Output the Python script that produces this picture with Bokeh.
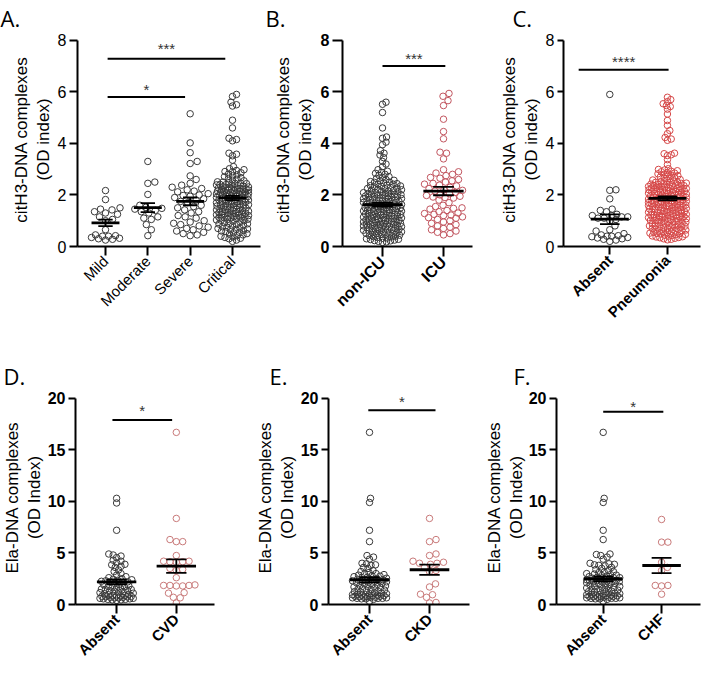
import math
import numpy as np
from bokeh.plotting import figure
from bokeh.layouts import column, row
from bokeh.models import FixedTicker, Range1d, Title
from bokeh.embed import file_html
from bokeh.resources import INLINE
from bokeh.core.properties import value

# ---------------- data ----------------
cats_a = ["Mild", "Moderate", "Severe", "Critical"]
mild = [2.17, 1.82, 1.5, 1.45, 1.42, 1.35, 1.3, 1.25, 1.15, 1.05, 1.0, 0.65, 0.45, 0.42, 0.4, 0.4,
        0.35, 0.32, 0.3, 0.28, 0.25]
moderate = [3.3, 2.5, 2.45, 2.02, 1.6, 1.52, 1.48, 1.45, 1.4, 1.35, 1.3, 1.15, 1.1, 1.05, 0.85, 0.65, 0.42]
severe = [5.15, 4.02, 3.64, 3.3, 3.22, 2.74, 2.6, 2.45, 2.38, 2.3, 2.25, 2.2, 2.12, 2.05, 2.0, 1.98, 1.9,
          1.85, 1.8, 1.75, 1.7, 1.6, 1.55, 1.5, 1.42, 1.35, 1.3, 1.2, 1.15, 1.1, 1.0, 0.95, 0.9, 0.85,
          0.8, 0.75, 0.7, 0.65, 0.6, 2.15, 0.55, 0.5, 1.95, 0.45, 0.42]
critical = [5.9, 5.82, 5.6, 5.5, 5.45, 4.9, 4.6, 4.2, 4.15, 4.1, 3.62, 3.58, 3.52, 3.35, 3.1, 3.02,
            2.98, 2.95, 2.91, 2.9, 2.86, 2.81, 2.78, 2.74, 2.71, 2.67, 2.64, 2.61, 2.57, 2.55, 2.51,
            2.5, 2.48, 2.46, 2.45, 2.41, 2.4, 2.38, 2.36, 2.35, 2.32, 2.3, 2.28, 2.27, 2.25, 2.24, 2.22,
            2.2, 2.2, 2.18, 2.17, 2.15, 2.14, 2.12, 2.1, 2.1, 2.08, 2.07, 2.05, 2.04, 2.03, 2.02, 2.0,
            2.0, 2.19, 2.21, 2.23, 2.13, 2.09, 2.06, 2.31, 2.39, 2.44,
            1.98, 1.96, 1.95, 1.93, 1.92, 1.9, 1.88, 1.86, 1.85, 1.83, 1.82, 1.8, 1.78, 1.77, 1.75,
            1.73, 1.72, 1.7, 1.68, 1.66, 1.65, 1.63, 1.62, 1.6, 1.58, 1.57, 1.55, 1.54, 1.52, 1.51,
            1.87, 1.74, 1.64, 1.94, 1.81,
            1.49, 1.47, 1.45, 1.44, 1.42, 1.4, 1.38, 1.36, 1.35, 1.33, 1.31, 1.3, 1.28, 1.26, 1.25,
            1.23, 1.21, 1.2, 1.18, 1.16, 1.15, 1.13, 1.11, 1.1, 1.08, 1.06, 1.05, 1.03, 1.02, 1.0,
            1.37, 1.22, 1.12, 1.27, 1.43,
            0.98, 0.95, 0.92, 0.9, 0.87, 0.85, 0.82, 0.8, 0.77, 0.75, 0.72, 0.7, 0.67, 0.65, 0.62,
            0.6, 0.58, 0.55, 0.53, 0.5, 0.88, 0.68,
            0.48, 0.45, 0.42, 0.4, 0.37, 0.35, 0.32, 0.3, 0.25, 0.2]
sig_a = [("Mild", "Severe", 5.8, 6.2, "*"), ("Mild", "Critical", 7.28, 7.8, "***")]

cats_b = ["non-ICU", "ICU"]
non_icu = [5.6, 5.52, 5.2, 4.6, 4.25, 4.2, 4.05, 3.95, 3.72, 3.62, 3.55, 3.45, 3.3, 3.2, 3.1,
           2.98, 2.92, 2.88, 2.84, 2.8, 2.76, 2.71, 2.68, 2.64, 2.6, 2.57, 2.55, 2.52, 2.5,
           2.49, 2.47, 2.44, 2.42, 2.41, 2.38, 2.36, 2.33, 2.31, 2.29, 2.27, 2.25, 2.24, 2.22, 2.2,
           2.19, 2.17, 2.15, 2.14, 2.12, 2.1, 2.09, 2.07, 2.06, 2.04, 2.03, 2.02, 2.01, 2.0, 2.35,
           1.99, 1.97, 1.96, 1.94, 1.93, 1.91, 1.9, 1.88, 1.87, 1.85, 1.84, 1.82, 1.81, 1.8, 1.78,
           1.77, 1.75, 1.74, 1.72, 1.71, 1.7, 1.68, 1.67, 1.65, 1.64, 1.62, 1.61, 1.6, 1.58, 1.57,
           1.56, 1.55, 1.53, 1.52, 1.51, 1.5, 1.86, 1.63,
           1.49, 1.48, 1.46, 1.45, 1.44, 1.42, 1.41, 1.4, 1.38, 1.37, 1.35, 1.34, 1.32, 1.31, 1.3,
           1.28, 1.27, 1.25, 1.24, 1.22, 1.21, 1.2, 1.18, 1.17, 1.15, 1.14, 1.12, 1.11, 1.1, 1.08,
           1.07, 1.05, 1.04, 1.03, 1.02, 1.01, 1.0, 1.16, 1.26, 1.36,
           0.99, 0.97, 0.96, 0.94, 0.93, 0.91, 0.9, 0.88, 0.87, 0.85, 0.84, 0.82, 0.81, 0.8, 0.78,
           0.77, 0.75, 0.74, 0.72, 0.7, 0.69, 0.67, 0.66, 0.64, 0.63, 0.61, 0.6, 0.58, 0.57, 0.55,
           0.54, 0.52, 0.51, 0.5, 0.86, 0.76, 0.65, 0.95,
           0.49, 0.47, 0.45, 0.44, 0.42, 0.4, 0.38, 0.37, 0.35, 0.33, 0.32, 0.3, 0.28, 0.27, 0.25,
           0.23, 0.22, 0.2, 0.18, 0.16]
icu = [5.94, 5.83, 5.66, 5.47, 4.94, 4.46, 4.18, 3.66, 3.62, 3.4, 2.98, 1.4, 2.9, 1.35, 2.85, 1.6,
       2.8, 1.28, 2.75, 1.8, 2.68, 2.65, 2.6, 2.55, 2.5, 2.45, 2.42, 2.38, 2.35, 2.3, 2.25, 2.2,
       2.18, 2.15, 2.1, 2.05, 2.0, 1.98, 1.95, 1.92, 1.9, 1.88, 1.7, 1.55, 1.5, 1.48, 1.45, 1.3,
       1.25, 1.22, 1.2, 1.15, 1.12, 1.1, 1.05, 1.0, 0.95, 0.9, 0.85, 0.8, 0.75, 0.7, 0.65, 0.6,
       0.55, 0.5, 0.45]
sig_b = [("non-ICU", "ICU", 7.0, 7.4, "***")]

cats_c = ["Absent", "Pneumonia"]
c_absent = [5.9, 2.2, 2.18, 1.85, 1.45, 1.4, 1.35, 1.25, 1.2, 1.2, 1.15, 1.15, 1.1, 1.1, 1.05, 1.0,
            0.8, 0.65, 0.6, 0.5, 0.45, 0.42, 0.4, 0.4, 0.38, 0.35, 0.33, 0.3, 0.28, 0.25, 0.2]
pneumonia = [5.79, 5.7, 5.62, 5.54, 5.47, 5.43, 5.33, 5.14, 4.89, 4.7, 4.5, 4.38, 4.23, 4.17, 4.12,
             3.62, 3.6, 3.56, 3.53, 3.37, 3.18, 3.02,
             2.99, 2.97, 2.94, 2.92, 2.9, 2.87, 2.85, 2.82, 2.8, 2.77, 2.75, 2.72, 2.7, 2.68, 2.65,
             2.63, 2.6, 2.58, 2.56, 2.54, 2.52, 2.5,
             2.49, 2.48, 2.46, 2.45, 2.44, 2.42, 2.41, 2.4, 2.38, 2.37, 2.36, 2.34, 2.33, 2.32, 2.3,
             2.29, 2.28, 2.26, 2.25, 2.24, 2.22, 2.21, 2.2, 2.18, 2.17, 2.16, 2.14, 2.13, 2.12, 2.1,
             2.09, 2.08, 2.06, 2.05, 2.04, 2.02, 2.01, 2.0, 2.15, 2.23, 2.35, 2.11, 2.19, 2.27, 2.07,
             1.99, 1.98, 1.96, 1.95, 1.94, 1.92, 1.91, 1.9, 1.88, 1.87, 1.86, 1.84, 1.83, 1.82, 1.8,
             1.79, 1.78, 1.76, 1.75, 1.74, 1.72, 1.71, 1.7, 1.68, 1.67, 1.66, 1.64, 1.63, 1.62, 1.6,
             1.59, 1.58, 1.56, 1.55, 1.54, 1.52, 1.51, 1.5, 1.65, 1.73, 1.85, 1.61, 1.69, 1.77, 1.57,
             1.49, 1.48, 1.46, 1.45, 1.44, 1.42, 1.41, 1.4, 1.38, 1.37, 1.36, 1.34, 1.33, 1.32, 1.3,
             1.29, 1.28, 1.26, 1.25, 1.24, 1.22, 1.21, 1.2, 1.18, 1.17, 1.16, 1.14, 1.13, 1.12, 1.1,
             1.09, 1.08, 1.06, 1.05, 1.04, 1.02, 1.01, 1.0, 1.15, 1.23, 1.35, 1.11,
             0.99, 0.97, 0.96, 0.94, 0.93, 0.91, 0.9, 0.88, 0.87, 0.85, 0.84, 0.82, 0.81, 0.79, 0.78,
             0.76, 0.75, 0.73, 0.72, 0.7, 0.69, 0.67, 0.66, 0.64, 0.63, 0.61, 0.6, 0.58, 0.57, 0.55,
             0.54, 0.52, 0.51, 0.5, 0.8,
             0.49, 0.47, 0.46, 0.44, 0.43, 0.41, 0.4, 0.38, 0.37, 0.35, 0.34, 0.32, 0.3, 0.28, 0.26]
sig_c = [("Absent", "Pneumonia", 6.86, 7.3, "****")]

cats_d = ["Absent", "CVD"]
d_absent = [10.3, 9.85, 7.2, 4.9, 4.8, 4.7, 4.55, 4.3, 4.2, 4.05, 3.9, 3.85, 3.7, 3.6, 3.35, 3.2, 3.0,
            2.85, 2.7, 2.6, 2.45, 2.35, 2.3, 2.2, 2.1, 2.05, 1.95, 1.9, 1.8, 1.75, 1.65, 1.6, 1.5,
            1.45, 1.4, 1.3, 1.25, 1.2, 1.15, 1.1, 1.05, 1.0, 0.95, 0.9, 0.9, 0.85, 0.8, 0.8, 0.75,
            0.75, 0.7, 0.7, 0.65, 0.6, 0.6, 0.55, 0.55, 0.5, 0.5, 0.45, 0.45, 2.4, 0.4, 2.15, 2.25,
            1.35, 1.45, 1.55, 0.85, 0.65, 1.7, 2.5]
cvd = [16.7, 8.35, 6.3, 6.1, 6.1, 4.75, 4.2, 4.2, 4.15, 4.1, 4.15, 3.5, 3.4, 3.3, 2.6, 1.9, 1.85, 1.8,
       1.85, 1.8, 1.85, 1.15, 1.1, 0.7, 0.65, 0.15]
sig_d = [("Absent", "CVD", 17.9, 19.1, "*")]

cats_e = ["Absent", "CKD"]
e_absent = [16.7, 10.3, 9.9, 7.2, 6.1, 4.75, 4.6, 4.4, 4.0, 3.95, 3.85, 3.8, 3.6, 3.5, 3.3, 3.1, 2.95,
            2.8, 2.7, 2.55, 2.45, 2.35, 2.3, 2.2, 2.15, 2.05, 2.0, 1.95, 1.85, 1.8, 1.7, 1.65, 1.55,
            1.5, 1.45, 1.4, 1.35, 1.3, 1.25, 1.2, 1.15, 1.1, 1.05, 1.0, 0.95, 0.9, 0.9, 0.85, 0.85,
            0.8, 0.8, 0.75, 0.75, 0.7, 0.7, 0.7, 0.65, 0.65, 0.6, 0.6, 0.6, 0.55, 0.55, 0.5, 2.9,
            2.75, 2.65, 2.5, 2.4, 2.4, 3.0, 2.85, 2.3, 2.25, 0.3, 2.6, 1.75, 1.6, 2.1, 1.9, 0.95,
            1.05, 3.2, 2.25]
ckd = [8.35, 6.3, 6.1, 4.9, 4.75, 4.2, 4.1, 4.0, 4.0, 3.9, 3.6, 3.3, 3.2, 2.0, 1.7, 1.0, 0.95, 0.7,
       0.2, 0.15]
sig_e = [("Absent", "CKD", 18.85, 20.0, "*")]

cats_f = ["Absent", "CHF"]
f_absent = [16.7, 10.3, 9.9, 7.2, 6.3, 4.9, 4.85, 4.75, 4.6, 4.4, 4.0, 3.95, 3.9, 3.85, 3.8, 3.75,
            3.6, 3.5, 3.4, 3.3, 3.15, 3.1, 2.95, 2.8, 2.7, 2.6, 2.55, 2.45, 2.35, 2.3, 2.2, 2.2, 2.15,
            2.05, 2.0, 1.95, 1.85, 1.8, 1.7, 1.65, 1.55, 1.5, 1.5, 1.45, 1.4, 1.35, 1.3, 1.25, 1.2,
            1.15, 1.1, 1.05, 1.0, 0.95, 0.9, 0.9, 0.85, 0.85, 0.8, 0.8, 0.75, 0.75, 0.7, 0.7, 0.7,
            0.65, 0.65, 0.6, 0.6, 0.6, 0.55, 0.55, 0.5, 2.9, 2.75, 2.65, 2.5, 2.4, 2.4, 3.0, 2.85,
            2.3, 2.25, 0.3, 2.6, 1.75, 1.6, 2.1, 1.9, 0.95, 1.05, 3.2, 2.25]
chf = [8.25, 6.05, 6.05, 4.1, 3.6, 3.3, 1.85, 1.8, 1.85, 1.0]
sig_f = [("Absent", "CHF", 18.7, 19.5, "*")]

LAB_A = ["citH3-DNA complexes", "(OD index)"]
LAB_D = ["Ela-DNA complexes", "(OD Index)"]

# ---------------- styling ----------------
AX_FONT = "Liberation Sans"
GRAY = "#3a3a3a"
RED_B = "#c25660"
RED_C = "#d64848"
RED_DF = "#c97a7a"


def swarm(vals, px_x, px_y, d, wmax):
    """Deterministic beeswarm layout, capped at +-wmax px: returns offsets in data units."""
    vals = np.asarray(vals, float)
    order = np.argsort(vals, kind="stable")
    n = int(wmax * 2)
    cands = np.array([0.0] + [s * k * 0.5 for k in range(1, n + 1) for s in (1, -1)])
    px = np.zeros(len(vals))
    py = vals * px_y
    placed = []
    for i in order:
        y = py[i]
        if placed:
            idx = np.array(placed)
            near = idx[np.abs(py[idx] - y) < d]
        else:
            near = np.array([], dtype=int)
        if len(near):
            dx = cands[:, None] - px[near][None, :]
            dy = (py[near] - y)[None, :]
            dist2 = np.min(dx * dx + dy * dy, axis=1)
            ok = dist2 >= d * d
            if ok.any():
                px[i] = cands[int(np.argmax(ok))]
            else:
                px[i] = cands[int(np.argmax(dist2))]
        placed.append(i)
    return px / px_x


def panel(letter, fig_left, fig_top, W, H, frame_l, frame_r, c1, spacing, ax_top, ax_bot,
          ymax, yticks, cats, groups, sigs, sig_dx, ylabel, lab_standoff, ybold, xbold, xfs,
          ytick_out, xtick_out, letter_x):
    pad = 8
    bl = frame_l - fig_left
    fw = frame_r - frame_l
    br = W - bl - fw
    bt = ax_top - pad - fig_top
    fh = ax_bot - ax_top + pad
    bb = H - bt - fh
    xr0 = 1 - (c1 - frame_l) / spacing
    xr1 = xr0 + fw / spacing
    ytop = ymax * fh / (fh - pad)
    p = figure(width=W, height=H, x_range=Range1d(xr0, xr1), y_range=Range1d(0, ytop),
               output_backend="svg", toolbar_location=None,
               min_border_left=bl, min_border_right=br, min_border_top=bt, min_border_bottom=bb)
    p.outline_line_color = None
    p.xgrid.visible = False
    p.ygrid.visible = False
    p.background_fill_color = "white"
    p.border_fill_color = "white"
    pxx = spacing
    pxy = (fh - pad) / ymax
    for k, (vals, color, d, wmax) in enumerate(groups):
        cx = k + 1
        offs = swarm(vals, pxx, pxy, d, wmax)
        p.scatter(cx + offs, vals, marker="circle", size=6.5, fill_color=None,
                  line_color=color, line_width=1)
        m = float(np.mean(vals))
        se = float(np.std(vals, ddof=1) / np.sqrt(len(vals)))
        p.segment(x0=[cx - 0.17, cx - 0.17, cx], x1=[cx + 0.17, cx + 0.17, cx],
                  y0=[m - se, m + se, m - se], y1=[m - se, m + se, m + se],
                  line_color="black", line_width=1.8)
        p.segment(x0=[cx - 0.33], x1=[cx + 0.33], y0=[m], y1=[m], line_color="black", line_width=2.8)
    for (a, b, yl, yt, stars), (d0, d1) in zip(sigs, sig_dx):
        xa = cats.index(a) + 1 + d0
        xb = cats.index(b) + 1 + d1
        p.segment(x0=[xa], x1=[xb], y0=[yl], y1=[yl], line_color="black", line_width=2)
        p.text(x=[(xa + xb) / 2], y=[yt - 3 / pxy], text=[stars], text_align="center",
               text_baseline="middle", text_font=value(AX_FONT), text_font_size="15px",
               text_color="#333333")
    # axes
    p.xaxis.ticker = FixedTicker(ticks=list(range(1, len(cats) + 1)))
    p.xaxis.major_label_overrides = {i + 1: c for i, c in enumerate(cats)}
    p.xaxis.major_label_orientation = math.pi / 4
    p.yaxis.ticker = FixedTicker(ticks=yticks)
    p.yaxis.bounds = (0, ymax)
    for ax, bold, fs, tout in ((p.xaxis[0], xbold, xfs, xtick_out), (p.yaxis[0], ybold, "16px", ytick_out)):
        ax.axis_line_width = 2
        ax.axis_line_color = "black"
        ax.major_tick_line_width = 2
        ax.major_tick_line_color = "black"
        ax.major_tick_in = 0
        ax.major_tick_out = tout
        ax.minor_tick_line_color = None
        ax.major_label_text_font = AX_FONT
        ax.major_label_text_font_size = fs
        ax.major_label_text_font_style = "bold" if bold else "normal"
        ax.major_label_text_color = "black"
        ax.major_label_standoff = 3
    # y-axis title: second line as the axis label, first line as a side title further out
    p.yaxis.axis_label = ylabel[1]
    p.yaxis.axis_label_text_font = AX_FONT
    p.yaxis.axis_label_text_font_size = "17px"
    p.yaxis.axis_label_text_font_style = "normal"
    p.yaxis.axis_label_text_color = "black"
    p.yaxis.axis_label_standoff = lab_standoff
    p.add_layout(Title(text=ylabel[0], align="center", standoff=0, text_font=AX_FONT,
                       text_font_size="17px", text_font_style="normal", text_color="black"), "left")
    # panel letter
    p.title.text = letter
    p.title.align = "left"
    p.title.offset = letter_x - frame_l
    p.title.standoff = 0
    p.title.text_font = "Open Sans"
    p.title.text_font_size = "22px"
    p.title.text_font_style = "normal"
    p.title.text_color = "black"
    return p


R2 = 342
H2 = 333
pA = panel("A.", 8, 8, 262, 334, 85, 268, 113, 42.33, 43, 254, 8, [0, 2, 4, 6, 8], cats_a,
           [(mild, GRAY, 7.0, 15), (moderate, GRAY, 7.0, 14), (severe, GRAY, 7.0, 18),
            (critical, GRAY, 4.2, 16)],
           sig_a, [(0.05, -0.12), (0.05, -0.17)], LAB_A, 2, False, False, "15px", 8, 9, 8)
pB = panel("B.", 270, 8, 235, 334, 350, 480, 390, 61, 47, 257, 8, [0, 2, 4, 6, 8], cats_b,
           [(non_icu, GRAY, 4.0, 19), (icu, RED_B, 6.5, 19)],
           sig_b, [(0.0, 0.03)], LAB_A, 3, True, True, "16px", 10, 10, 273)
pC = panel("C.", 505, 8, 207, 334, 563, 708, 612, 61, 48, 259, 8, [0, 2, 4, 6, 8], cats_c,
           [(c_absent, GRAY, 6.5, 19), (pneumonia, RED_C, 3.8, 20)],
           sig_c, [(-0.54, 0.02)], LAB_A, 2, False, True, "15px", 6, 8, 512)
pD = panel("D.", 8, R2, 247, H2, 80, 222, 122, 61, 406, 616, 20, [0, 5, 10, 15, 20], cats_d,
           [(d_absent, GRAY, 4.3, 17), (cvd, RED_DF, 6.5, 19)],
           sig_d, [(-0.07, -0.07)], LAB_D, 1, True, True, "15px", 7, 9, 8)
pE = panel("E.", 255, R2, 235, H2, 336, 477, 377, 60, 406, 616, 20, [0, 5, 10, 15, 20], cats_e,
           [(e_absent, GRAY, 4.3, 17), (ckd, RED_DF, 6.5, 18)],
           sig_e, [(-0.02, 0.1)], LAB_D, 1, True, True, "15px", 7, 9, 277)
pF = panel("F.", 490, R2, 222, H2, 560, 708, 608, 60, 405, 615, 20, [0, 5, 10, 15, 20], cats_f,
           [(f_absent, GRAY, 4.3, 17), (chf, RED_DF, 6.5, 10)],
           sig_f, [(0.0, 0.03)], LAB_D, 0, True, True, "15px", 7, 9, 517)

layout = column(row(pA, pB, pC), row(pD, pE, pF))
open("out.html", "w").write(file_html(layout, INLINE))
